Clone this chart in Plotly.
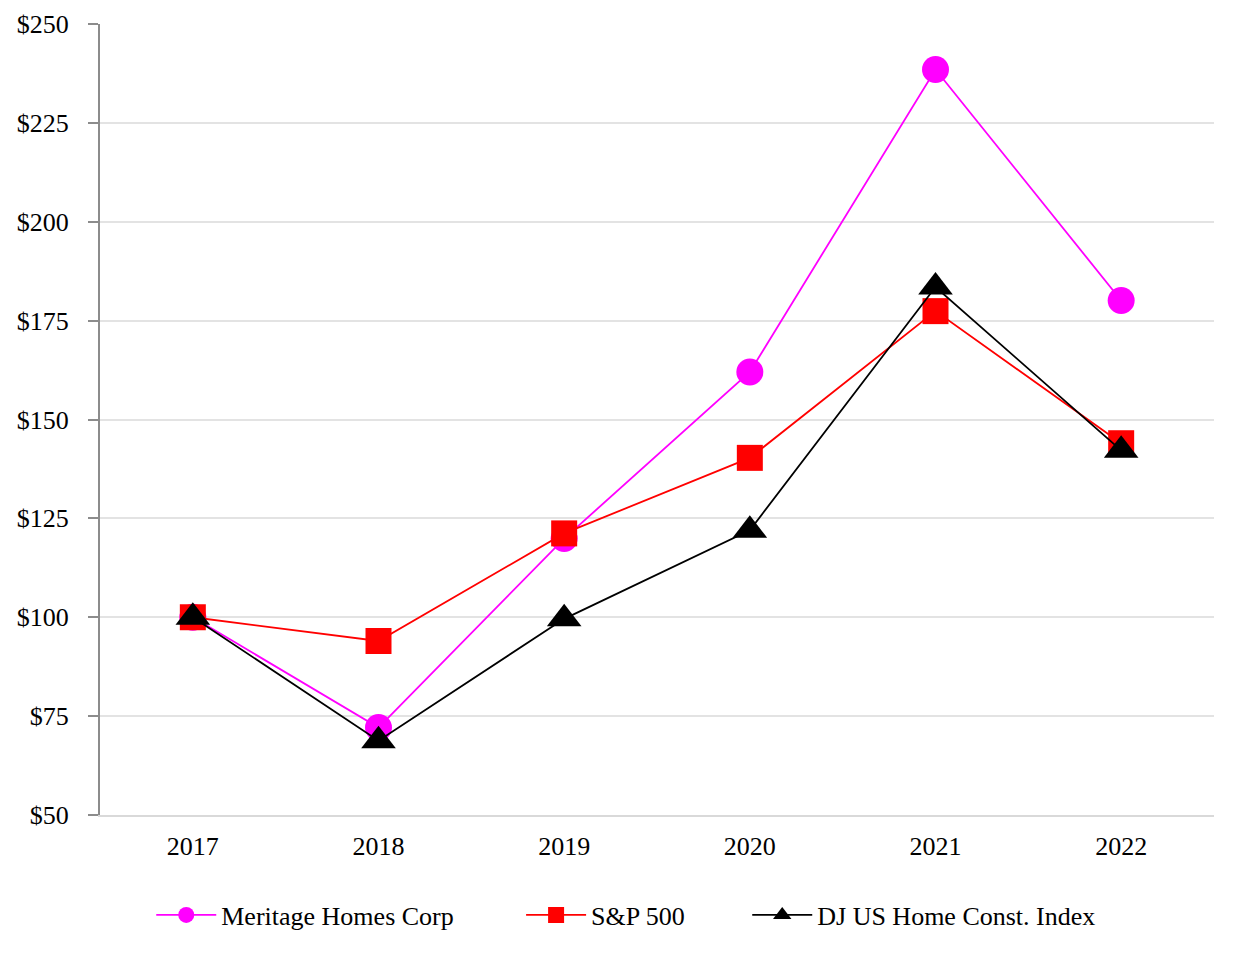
import plotly.graph_objects as go

years = ["2017", "2018", "2019", "2020", "2021", "2022"]
meritage = [100, 72.1, 119.9, 162.0, 238.5, 180.1]
sp500 = [100, 94.0, 121.2, 140.3, 177.4, 144.0]
dj_home = [100, 68.8, 99.6, 122.0, 183.5, 142.2]

y_ticks = [50, 75, 100, 125, 150, 175, 200, 225, 250]
y_tick_labels = ["$50", "$75", "$100", "$125", "$150", "$175", "$200", "$225", "$250"]

font_family = "Liberation Serif, Times New Roman, serif"
FS = 26

fig = go.Figure()
fig.add_trace(go.Scatter(
    x=years, y=meritage, name="Meritage Homes Corp", mode="lines+markers",
    line=dict(color="#FF00FF", width=1.8),
    marker=dict(symbol="circle", size=27, color="#FF00FF"),
    legend="legend",
))
fig.add_trace(go.Scatter(
    x=years, y=sp500, name="S&P 500", mode="lines+markers",
    line=dict(color="#FF0000", width=1.8),
    marker=dict(symbol="square", size=26, color="#FF0000"),
    legend="legend2",
))
fig.add_trace(go.Scatter(
    x=years, y=dj_home, name="DJ US Home Const. Index", mode="lines+markers",
    line=dict(color="#000000", width=1.8),
    marker=dict(symbol="triangle-up", size=30, color="#000000"),
    legend="legend3",
))

def leg(x):
    return dict(
        orientation="h", x=x, xanchor="left", y=-0.1264, yanchor="middle",
        font=dict(family=font_family, size=FS, color="black"),
        itemwidth=60, bgcolor="rgba(0,0,0,0)",
    )

fig.update_layout(
    width=1236, height=960,
    margin=dict(l=92, r=30, t=16, b=153, autoexpand=False),
    paper_bgcolor="white", plot_bgcolor="white",
    font=dict(family=font_family, size=FS, color="black"),
    showlegend=True,
    legend=leg(0.046),
    legend2=leg(0.378),
    legend3=leg(0.581),
    xaxis=dict(
        type="category", range=[-0.5, 5.5], automargin=False,
        showgrid=False, showline=True, linecolor="#d9d9d9", linewidth=2,
        ticks="", ticklabelstandoff=7,
        tickfont=dict(family=font_family, size=FS),
    ),
    yaxis=dict(
        range=[50, 250], tickvals=y_ticks, ticktext=y_tick_labels,
        automargin=False,
        showgrid=True, gridcolor="#e3e3e3", gridwidth=2,
        showline=True, linecolor="#8c8c8c", linewidth=2,
        ticks="outside", ticklen=10, tickcolor="#8c8c8c", tickwidth=2,
        ticklabelstandoff=14, zeroline=False, ticklabeloverflow="allow",
        tickfont=dict(family=font_family, size=FS),
    ),
)

fig.write_html("out.html")
